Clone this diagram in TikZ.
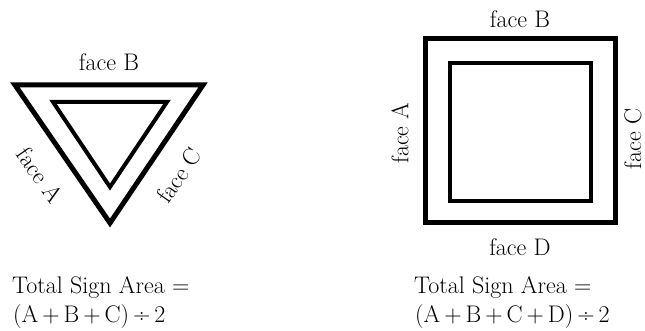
\documentclass[tikz,border=0pt]{standalone}
\begin{document}
\begin{tikzpicture}[x=1pt, y=1pt,
    outer/.style={draw, line width=5pt, line join=miter},
    inner/.style={draw, line width=4pt, line join=miter},
    every node/.style={inner sep=0pt, font=\fontsize{24}{28}\selectfont}]
  \useasboundingbox (0,0) rectangle (645,331);
  % triangular sign
  \coordinate (to1) at (15,246);  \coordinate (to2) at (203,246);  \coordinate (to3) at (110,108);
  \coordinate (ti1) at (53,229);  \coordinate (ti2) at (167,229);  \coordinate (ti3) at (110,144);
  \draw[outer] (to1) -- (to2) -- (to3) -- cycle;
  \draw[inner] (ti1) -- (ti2) -- (ti3) -- cycle;
  \node (triB) at (109,269) {face B};
  \node[rotate=-55] (triA) at (40,156) {face A};
  \node[rotate=55] (triC) at (179,156) {face C};
  % square sign
  \coordinate (so1) at (425,292); \coordinate (so2) at (615,108);
  \coordinate (si1) at (450,268); \coordinate (si2) at (591,130);
  \draw[outer] (so1) rectangle (so2);
  \draw[inner] (si1) rectangle (si2);
  \node (sqB) at (520,312) {face B};
  \node[rotate=90] (sqA) at (400,198) {face A};
  \node[rotate=90] (sqC) at (633,192) {face C};
  \node (sqD) at (520,84) {face D};
  % totals
  \node[anchor=base west] (tritot) at (12,37) {Total Sign Area =};
  \node[anchor=base west] (trisum) at (13,8) {(A\,+\,B\,+\,C)\,÷\,2};
  \node[anchor=base west] (sqtot) at (414,37) {Total Sign Area =};
  \node[anchor=base west] (sqsum) at (415,8) {(A\,+\,B\,+\,C\,+\,D)\,÷\,2};
\end{tikzpicture}
\end{document}
